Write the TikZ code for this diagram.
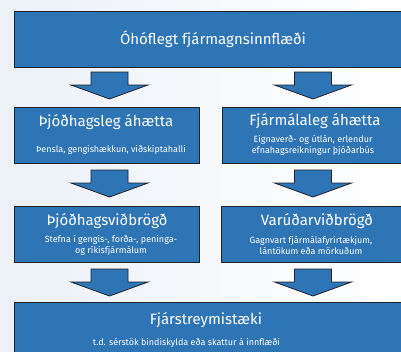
\documentclass[tikz,border=0pt]{standalone}
\usepackage{fontspec}
\setmainfont{Fira Sans}
\usetikzlibrary{positioning}
\definecolor{boxblue}{RGB}{46,117,182}
\definecolor{edgegray}{RGB}{32,34,44}
\definecolor{bgblue}{RGB}{236,241,248}

\begin{document}
\begin{tikzpicture}[x=1pt,y=-1pt,
        box/.style={draw=edgegray, line width=1pt, fill=boxblue, inner sep=0pt, anchor=north west},
        title/.style={text=white, font=\fontsize{15}{17}\selectfont},
        sub/.style={text=white, font=\fontsize{9}{11}\selectfont, align=center, inner sep=0pt},
        blockarrow/.style={draw=edgegray, fill=boxblue, line width=0.8pt}]
                \useasboundingbox (0,0) rectangle (401,351);
                \clip (0,0) rectangle (401,351);
                \shade[left color=bgblue, right color=white] (0,0) rectangle (401,351);
                % boxes
                \node[box, minimum width=400pt, minimum height=56pt] (influx) at (14,11) {};
                \node[box, minimum width=185pt, minimum height=56pt] (macrorisk) at (14,107) {};
                \node[box, minimum width=190pt, minimum height=56pt] (finrisk) at (222,107) {};
                \node[box, minimum width=185pt, minimum height=56pt] (macroresp) at (14,206) {};
                \node[box, minimum width=190pt, minimum height=56pt] (prudresp) at (221,206) {};
                \node[box, minimum width=400pt, minimum height=60pt] (flows) at (14,302) {};
                % texts
                \node[title] (influx-t) at (213,39) {Óhóflegt fjármagnsinnflæði};
                \node[title] (macrorisk-t) at (106,122) {Þjóðhagsleg áhætta};
                \node[sub] (macrorisk-s) at (111,150) {Þensla, gengishækkun, viðskiptahalli};
                \node[title] (finrisk-t) at (315,121) {Fjármálaleg áhætta};
                \node[sub] (finrisk-s) at (313,145) {Eignaverð- og útlán, erlendur\\efnahagsreikningur þjóðarbús};
                \node[title] (macroresp-t) at (107,221) {Þjóðhagsviðbrögð};
                \node[sub] (macroresp-s) at (111,245.5) {Stefna í gengis-, forða-, peninga-\\og ríkisfjármálum};
                \node[title] (prudresp-t) at (317,221) {Varúðarviðbrögð};
                \node[sub] (prudresp-s) at (311,245.5) {Gagnvart fjármálafyrirtækjum,\\lántökum eða mörkuðum};
                \node[title] (flows-t) at (206,320) {Fjárstreymistæki};
                \node[sub] (flows-s) at (186.5,343) {t.d. sérstök bindiskylda eða skattur á innflæði};
                % arrows
                \foreach \cx in {109.5,313}
                    \foreach \ty in {72,170,269}
                        \draw[blockarrow] (\cx-18.5,\ty) -- (\cx+18.5,\ty) -- (\cx+18.5,\ty+13) -- (\cx+38.5,\ty+13)
                            -- (\cx,\ty+27) -- (\cx-38.5,\ty+13) -- (\cx-18.5,\ty+13) -- cycle;
            \end{tikzpicture}
\end{document}
